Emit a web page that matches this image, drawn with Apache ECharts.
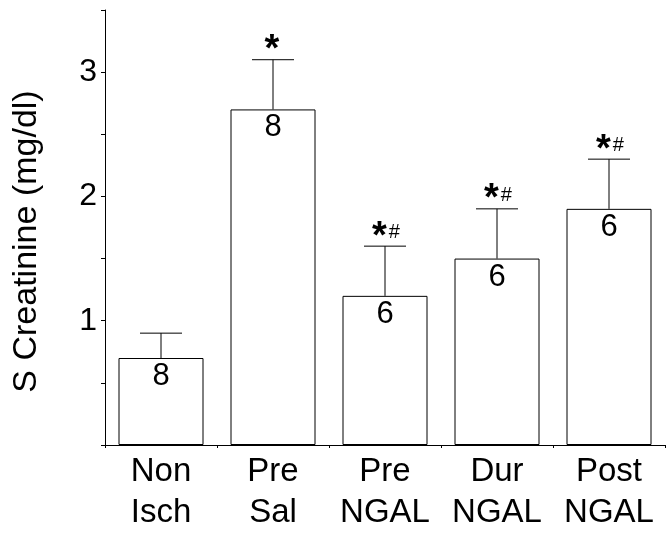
<!DOCTYPE html>
<html>
<head>
<meta charset="utf-8">
<script src="https://cdn.jsdelivr.net/npm/echarts@6/dist/echarts.min.js"></script>
<style>
  html, body { margin: 0; padding: 0; background: #fff; }
  #main { width: 668px; height: 533px; }
</style>
</head>
<body>
<div id="main"></div>
<script>
  // data
  var categories = ['Non\nIsch', 'Pre\nSal', 'Pre\nNGAL', 'Dur\nNGAL', 'Post\nNGAL'];
  var means = [0.7, 2.7, 1.2, 1.5, 1.9];
  var errUpper = [0.9, 3.1, 1.6, 1.9, 2.3];
  var nCounts = ['8', '8', '6', '6', '6'];
  var marks = ['', '*', '*#', '*#', '*#'];

  var font = '"Liberation Sans", Arial, Helvetica, sans-serif';

  var errData = means.map(function (m, i) { return [i, m, errUpper[i]]; });
  var markData = errUpper.map(function (e, i) { return [i, e]; });

  var option = {
    animation: false,
    backgroundColor: '#fff',
    grid: { left: 105, right: 3, top: 10, bottom: 83 },
    xAxis: {
      type: 'category',
      data: categories,
      axisLine: { lineStyle: { color: '#000', width: 1 } },
      axisTick: { show: true, length: 3, lineStyle: { color: '#000' } },
      axisLabel: {
        color: '#000', fontSize: 33, fontFamily: font,
        lineHeight: 41, margin: 6, interval: 0
      }
    },
    yAxis: {
      type: 'value',
      min: 0, max: 3.5, interval: 0.5,
      name: 'S Creatinine (mg/dl)',
      nameLocation: 'middle',
      nameGap: 61,
      nameTextStyle: { color: '#000', fontSize: 34, fontFamily: font, padding: [0, 28, 0, 0] },
      splitLine: { show: false },
      axisLine: { show: true, lineStyle: { color: '#000', width: 1 } },
      axisTick: { show: true, length: 4, lineStyle: { color: '#000' } },
      axisLabel: {
        color: '#000', fontSize: 32, fontFamily: font, margin: 8,
        formatter: function (v) { return (v > 0 && v % 1 === 0) ? String(v) : ''; }
      }
    },
    series: [
      {
        type: 'bar',
        data: means,
        barWidth: 85,
        itemStyle: { color: '#fff', borderColor: '#000', borderWidth: 1 },
        label: {
          show: true,
          position: 'insideTop',
          distance: 3,
          color: '#000',
          fontSize: 31,
          fontFamily: font,
          formatter: function (p) { return nCounts[p.dataIndex]; }
        }
      },
      {
        type: 'custom',
        data: errData,
        z: 3,
        renderItem: function (params, api) {
          var lo = api.coord([api.value(0), api.value(1)]);
          var hi = api.coord([api.value(0), api.value(2)]);
          var half = 21;
          return {
            type: 'group',
            children: [
              { type: 'line', shape: { x1: lo[0], y1: lo[1], x2: hi[0], y2: hi[1] },
                style: { stroke: '#000', lineWidth: 1 } },
              { type: 'line', shape: { x1: hi[0] - half, y1: hi[1], x2: hi[0] + half, y2: hi[1] },
                style: { stroke: '#000', lineWidth: 1 } }
            ]
          };
        }
      },
      {
        type: 'custom',
        data: markData,
        z: 4,
        renderItem: function (params, api) {
          var m = marks[params.dataIndex];
          if (!m) return null;
          var p = api.coord([api.value(0), api.value(1)]);
          var txt = m === '*#' ? '{s|*}{h|#}' : '{s|*}';
          return {
            type: 'text',
            x: p[0] + (m === '*#' ? 1 : 0), y: p[1] + 10,
            style: {
              text: txt,
              align: 'center',
              verticalAlign: 'bottom',
              rich: {
                s: { fontSize: 38, fontWeight: 'bold', fontFamily: font, fill: '#000', lineHeight: 38, padding: [0, 2, 0, 0] },
                h: { fontSize: 20, fontFamily: font, fill: '#000', lineHeight: 38, padding: [0, 0, 9, 0] }
              }
            }
          };
        }
      }
    ]
  };

  var chart = echarts.init(document.getElementById('main'));
  chart.setOption(option);
</script>
</body>
</html>
